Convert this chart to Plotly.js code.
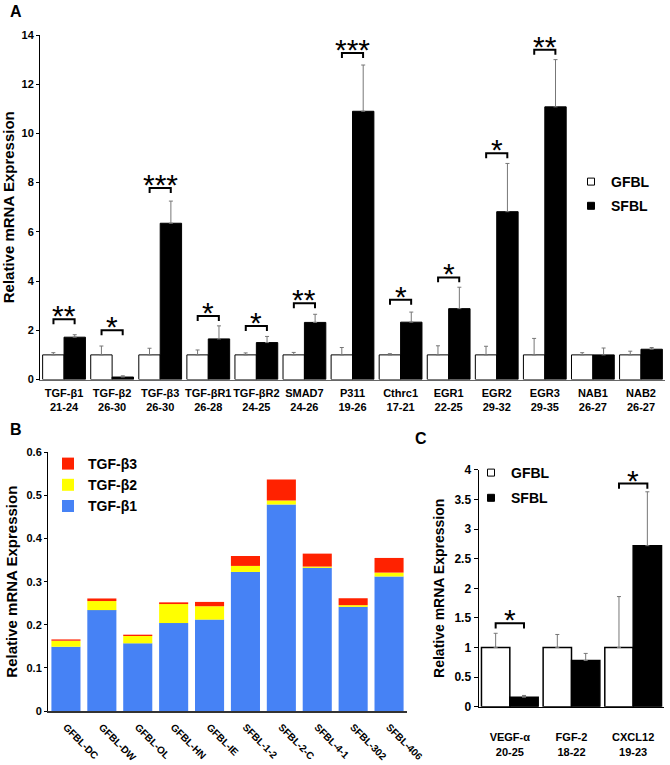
<!DOCTYPE html>
<html>
<head>
<meta charset="utf-8">
<script src="https://cdn.plot.ly/plotly-3.0.1.min.js"></script>
<style>
  html, body { margin: 0; padding: 0; background: #fff; }
  #plt { width: 670px; height: 765px; }
</style>
</head>
<body>
<div id="plt"></div>
<script>
// ---- panel A: genes, Ct ranges, GFBL vs SFBL ----
var genesA = ['TGF-β1', 'TGF-β2', 'TGF-β3', 'TGF-βR1', 'TGF-βR2', 'SMAD7', 'P311',
    'Cthrc1', 'EGR1', 'EGR2', 'EGR3', 'NAB1', 'NAB2'];
var ctA = ['21-24', '26-30', '26-30', '26-28', '24-25', '24-26', '19-26',
    '17-21', '22-25', '29-32', '29-35', '26-27', '26-27'];
var gfblA = [1, 1, 1, 1, 1, 1, 1, 1, 1, 1, 1, 1, 1];
var gfblErrA = [0.09, 0.36, 0.27, 0.20, 0.08, 0.10, 0.30, 0.05, 0.37, 0.35, 0.67, 0.09, 0.15];
var sfblA = [1.72, 0.10, 6.35, 1.65, 1.50, 2.32, 10.9, 2.33, 2.88, 6.82, 11.08, 1.0, 1.23];
var sfblErrA = [0.10, 0.05, 0.90, 0.53, 0.25, 0.33, 1.88, 0.41, 0.87, 1.96, 1.92, 0.28, 0.07];
var sigA = ['**', '*', '***', '*', '*', '**', '***', '*', '*', '*', '**', '', ''];
var brkA = [2.45, 2.0, 7.78, 2.58, 2.17, 3.1, 13.27, 3.24, 4.15, 9.19, 13.4, null, null];

// ---- panel B: TGF-beta isoforms per cell line (stacked) ----
var linesB = ['GFBL-DC', 'GFBL-DW', 'GFBL-OL', 'GFBL-HN', 'GFBL-IE',
    'SFBL-1-2', 'SFBL-2-C', 'SFBL-4-1', 'SFBL-302', 'SFBL-406'];
var tgfb1 = [0.149, 0.234, 0.157, 0.204, 0.212, 0.3225, 0.479, 0.332, 0.2415, 0.312];
var tgfb2 = [0.014, 0.021, 0.017, 0.044, 0.031, 0.014, 0.009, 0.003, 0.004, 0.009];
var tgfb3 = [0.003, 0.006, 0.003, 0.004, 0.010, 0.023, 0.049, 0.030, 0.016, 0.034];

// ---- panel C ----
var genesC = ['VEGF-α', 'FGF-2', 'CXCL12'];
var ctC = ['20-25', '18-22', '19-23'];
var gfblC = [1, 1, 1];
var gfblErrC = [0.24, 0.22, 0.86];
var sfblC = [0.16, 0.78, 2.72];
var sfblErrC = [0.03, 0.12, 0.91];
var sigC = ['*', '', '*'];
var brkC = [1.41, null, 3.77];

var FONT = 'Arial, "Liberation Sans", sans-serif';

function idx(n) {
    var a = [];
    for (var i = 0; i < n; i++) a.push(i);
    return a;
}

function zeros(n) {
    return idx(n).map(function () { return 0; });
}

function tickText(names, cts) {
    return names.map(function (s, i) { return s + '<br>' + cts[i]; });
}

// bracket = horizontal bar with two short legs going down
function bracketTrace(heights, half, leg, xa, ya) {
    var x = [], y = [];
    for (var i = 0; i < heights.length; i++) {
        if (heights[i] === null) continue;
        x.push(i - half, i - half, i + half, i + half, null);
        y.push(heights[i] - leg, heights[i], heights[i], heights[i] - leg, null);
    }
    return {
        x: x, y: y, xaxis: xa, yaxis: ya,
        type: 'scatter', mode: 'lines',
        line: {color: 'black', width: 2},
        hoverinfo: 'skip', showlegend: false
    };
}

function starNotes(heights, stars, xr, yr) {
    var out = [];
    for (var i = 0; i < heights.length; i++) {
        if (heights[i] === null) continue;
        out.push({
            x: i, y: heights[i], xref: xr, yref: yr,
            text: stars[i], showarrow: false,
            yanchor: 'bottom', yshift: -15,
            font: {family: FONT, size: 30, color: 'black'}
        });
    }
    return out;
}

function errBar(arr) {
    return {
        type: 'data', symmetric: false, array: arr, arrayminus: zeros(arr.length),
        color: '#777', thickness: 1, width: 2
    };
}

var xA = idx(genesA.length);
var xB = idx(linesB.length);
var xC = idx(genesC.length);

var data = [
    // A
    {
        x: xA, y: gfblA, type: 'bar', width: 0.445, offset: -0.445,
        marker: {color: 'white', line: {color: 'black', width: 1}},
        error_y: errBar(gfblErrA), showlegend: false, name: 'GFBL'
    },
    {
        x: xA, y: sfblA, type: 'bar', width: 0.445, offset: 0,
        marker: {color: 'black', line: {color: 'black', width: 1}},
        error_y: errBar(sfblErrA), showlegend: false, name: 'SFBL'
    },
    bracketTrace(brkA, 0.22, 0.2, 'x', 'y'),
    {
        x: [null], y: [null], type: 'scatter', mode: 'markers', name: 'GFBL',
        marker: {symbol: 'square', size: 7, color: 'white', line: {color: 'black', width: 1}},
        legend: 'legend', legendgroup: 'a1'
    },
    {
        x: [null], y: [null], type: 'scatter', mode: 'markers', name: 'SFBL',
        marker: {symbol: 'square', size: 7, color: 'black', line: {color: 'black', width: 1}},
        legend: 'legend', legendgroup: 'a2'
    },
    // B
    {
        x: xB, y: tgfb1, type: 'bar', width: 0.81, offset: -0.405,
        xaxis: 'x2', yaxis: 'y2', name: 'TGF-β1',
        marker: {color: '#4682F5'}, legend: 'legend2'
    },
    {
        x: xB, y: tgfb2, base: tgfb1, type: 'bar', width: 0.81, offset: -0.405,
        xaxis: 'x2', yaxis: 'y2', name: 'TGF-β2',
        marker: {color: '#FFFF00'}, legend: 'legend2'
    },
    {
        x: xB, y: tgfb3, base: tgfb1.map(function (v, i) { return v + tgfb2[i]; }),
        type: 'bar', width: 0.81, offset: -0.405,
        xaxis: 'x2', yaxis: 'y2', name: 'TGF-β3',
        marker: {color: '#FF2200'}, legend: 'legend2'
    },
    // C
    {
        x: xC, y: gfblC, type: 'bar', width: 0.46, offset: -0.46,
        xaxis: 'x3', yaxis: 'y3',
        marker: {color: 'white', line: {color: 'black', width: 1.5}},
        error_y: errBar(gfblErrC), showlegend: false, name: 'GFBL'
    },
    {
        x: xC, y: sfblC, type: 'bar', width: 0.46, offset: 0,
        xaxis: 'x3', yaxis: 'y3',
        marker: {color: 'black', line: {color: 'black', width: 1.5}},
        error_y: errBar(sfblErrC), showlegend: false, name: 'SFBL'
    },
    bracketTrace(brkC, 0.23, 0.09, 'x3', 'y3'),
    {
        x: [null], y: [null], type: 'scatter', mode: 'markers', name: 'GFBL',
        xaxis: 'x3', yaxis: 'y3',
        marker: {symbol: 'square', size: 7, color: 'white', line: {color: 'black', width: 1}},
        legend: 'legend3', legendgroup: 'c1'
    },
    {
        x: [null], y: [null], type: 'scatter', mode: 'markers', name: 'SFBL',
        xaxis: 'x3', yaxis: 'y3',
        marker: {symbol: 'square', size: 7, color: 'black', line: {color: 'black', width: 1}},
        legend: 'legend3', legendgroup: 'c2'
    }
];

var tickF = {family: FONT, size: 11, color: 'black', weight: 'bold'};
var titleF = {family: FONT, size: 15, color: 'black', weight: 'bold'};
var legF = {family: FONT, size: 14, color: 'black', weight: 'bold'};

var notes = [
    {text: 'A', x: 8 / 670, y: 1 - 12 / 765},
    {text: 'B', x: 8 / 670, y: 1 - 429 / 765},
    {text: 'C', x: 413 / 670, y: 1 - 438 / 765}
].map(function (n) {
    return {
        text: n.text, x: n.x, y: n.y, xref: 'paper', yref: 'paper',
        xanchor: 'left', yanchor: 'middle', showarrow: false,
        font: {family: FONT, size: 16, color: 'black', weight: 'bold'}
    };
});
notes = notes.concat(starNotes(brkA, sigA, 'x', 'y'), starNotes(brkC, sigC, 'x3', 'y3'));

var layout = {
    width: 670, height: 765,
    margin: {l: 0, r: 0, t: 0, b: 0},
    paper_bgcolor: 'white', plot_bgcolor: 'white',
    barmode: 'overlay',
    font: {family: FONT, color: 'black'},
    xaxis: {
        domain: [40 / 670, 665 / 670], anchor: 'y', range: [-0.5, 12.5],
        tickvals: xA, ticktext: tickText(genesA, ctA), tickfont: tickF, tickangle: 0,
        showline: true, linecolor: '#666', linewidth: 1, ticks: '',
        showgrid: false, zeroline: false, ticklabelstandoff: 3
    },
    yaxis: {
        domain: [1 - 379.5 / 765, 1 - 35 / 765], anchor: 'x', range: [0, 14], dtick: 2,
        ticks: 'outside', ticklen: 3, tickcolor: 'black', tickfont: tickF,
        showline: true, linecolor: 'black', linewidth: 1,
        showgrid: false, zeroline: false,
        title: {text: 'Relative mRNA Expression', font: titleF, standoff: 3}
    },
    xaxis2: {
        domain: [48 / 670, 407 / 670], anchor: 'y2', range: [-0.5, 9.5],
        tickvals: xB, ticktext: linesB, tickangle: 45,
        tickfont: {family: FONT, size: 10, color: 'black', weight: 'bold'},
        showline: true, linecolor: '#333', linewidth: 1.5, ticks: '',
        showgrid: false, zeroline: false, ticklabelstandoff: 5
    },
    yaxis2: {
        domain: [1 - 711 / 765, 1 - 452.3 / 765], anchor: 'x2', range: [0, 0.6], dtick: 0.1,
        ticks: 'outside', ticklen: 3, tickcolor: 'black', tickfont: tickF,
        showline: true, linecolor: 'black', linewidth: 1,
        showgrid: false, zeroline: false,
        title: {text: 'Relative mRNA Expression', font: titleF, standoff: 5}
    },
    xaxis3: {
        domain: [479 / 670, 664 / 670], anchor: 'y3', range: [-0.5, 2.5],
        tickvals: xC, ticktext: tickText(genesC, ctC), tickfont: tickF, tickangle: 0,
        showline: true, linecolor: 'black', linewidth: 1.5, ticks: '',
        showgrid: false, zeroline: false, ticklabelstandoff: 20
    },
    yaxis3: {
        domain: [1 - 706.7 / 765, 1 - 469.9 / 765], anchor: 'x3', range: [0, 4], dtick: 0.5,
        ticks: 'outside', ticklen: 4, tickcolor: 'black',
        tickfont: {family: FONT, size: 12, color: 'black', weight: 'bold'},
        showline: true, linecolor: 'black', linewidth: 1.5,
        showgrid: false, zeroline: false,
        title: {text: 'Relative mRNA Expression', font: {family: FONT, size: 14, color: 'black', weight: 'bold'}, standoff: 6}
    },
    legend: {
        x: 571 / 670, y: 1 - 166 / 765, xanchor: 'left', yanchor: 'top',
        font: legF, bgcolor: 'rgba(0,0,0,0)', traceorder: 'grouped', tracegroupgap: 3
    },
    legend2: {
        x: 48 / 670, y: 1 - 448 / 765, xanchor: 'left', yanchor: 'top',
        font: legF, bgcolor: 'rgba(0,0,0,0)', traceorder: 'reversed'
    },
    legend3: {
        x: 471 / 670, y: 1 - 457 / 765, xanchor: 'left', yanchor: 'top',
        font: legF, bgcolor: 'rgba(0,0,0,0)', traceorder: 'grouped', tracegroupgap: 4
    },
    annotations: notes,
    showlegend: true
};

Plotly.newPlot('plt', data, layout, {displayModeBar: false, staticPlot: true});
</script>
</body>
</html>
